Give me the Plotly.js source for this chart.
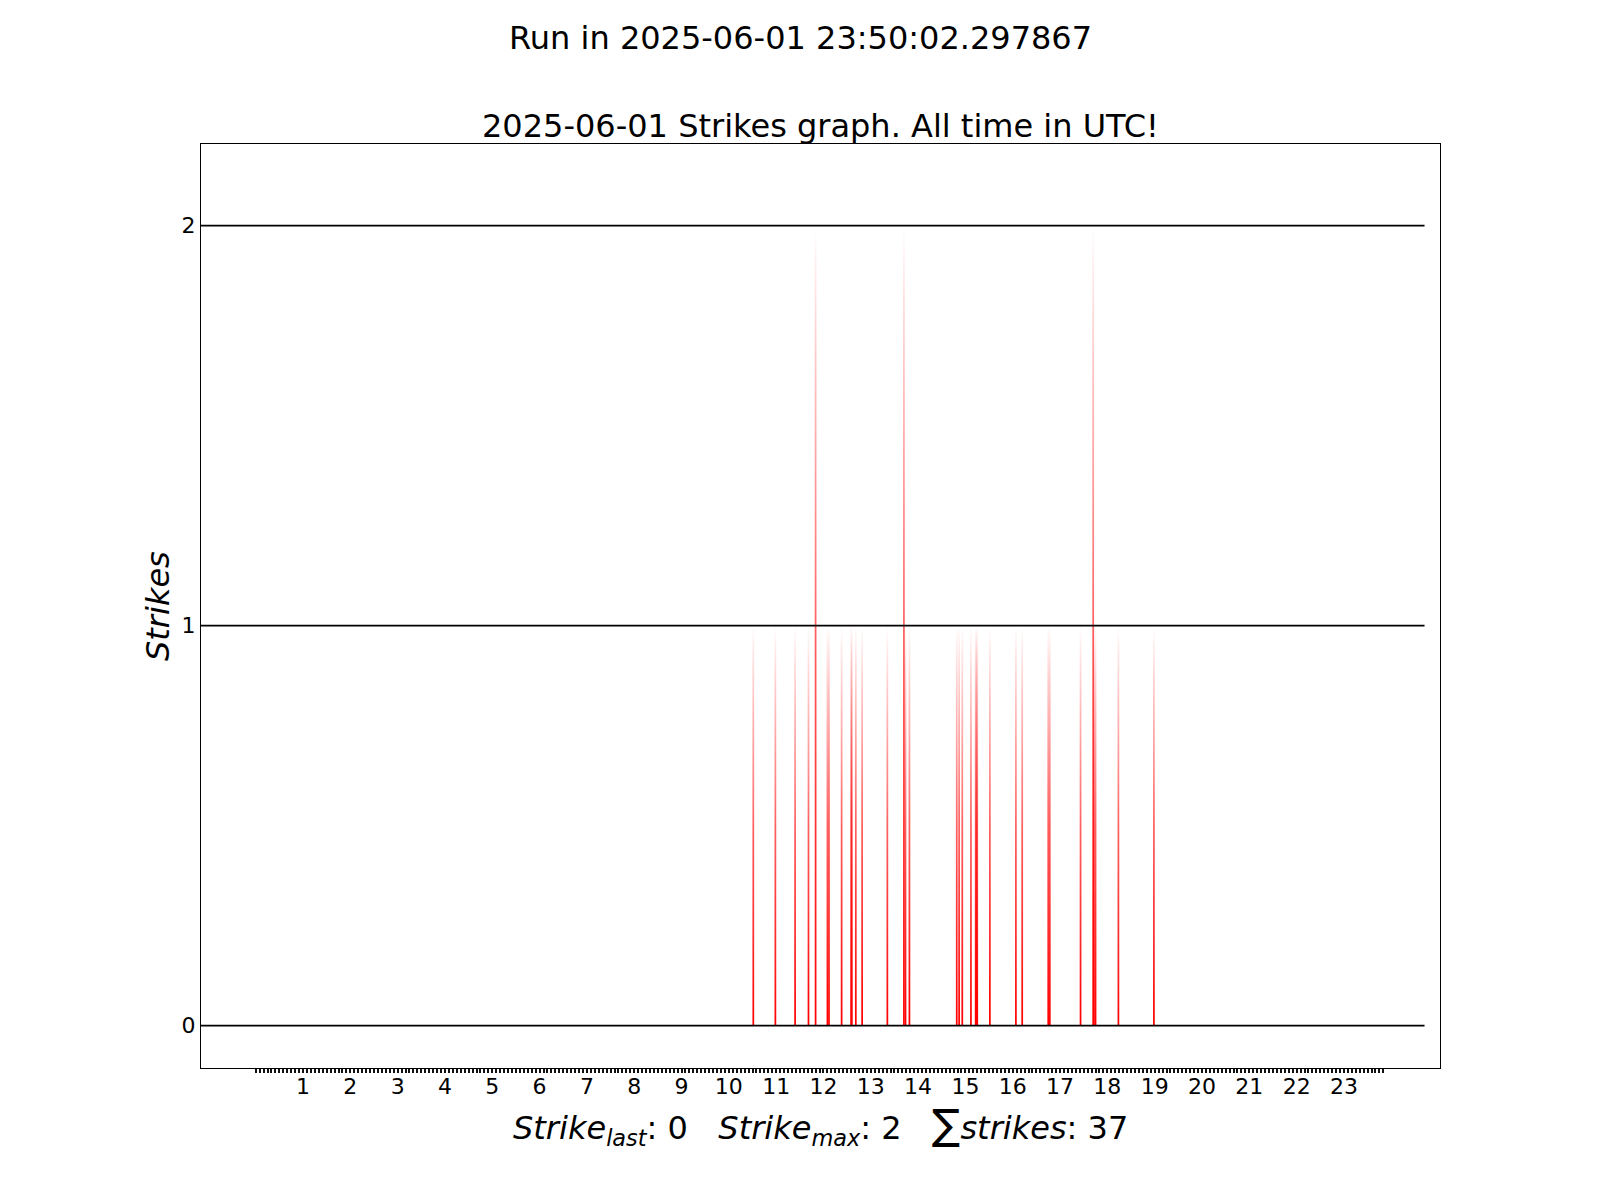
<!DOCTYPE html>
<html>
<head>
<meta charset="utf-8">
<script src="https://cdn.plot.ly/plotly-3.0.1.min.js"></script>
<style>
  html, body { margin: 0; padding: 0; background: #ffffff; }
  #chart { width: 1600px; height: 1200px; }
</style>
</head>
<body>
<div id="chart"></div>
<script>
// ---- data ----
const runStamp = "Run in 2025-06-01 23:50:02.297867";
const chartTitle = "2025-06-01 Strikes graph. All time in UTC!";
const yLabel = "Strikes";
// minute of the day (UTC) at which strikes were recorded
const strikeMinutes = [631, 659, 684, 701, 710, 725, 727, 743, 755, 756,
                       761, 769, 801, 822, 824, 829, 889, 892, 896, 907,
                       913, 914, 915, 931, 964, 972, 1005, 1007, 1046, 1062,
                       1063, 1065, 1094, 1139];
// strikes in that minute
const strikeCounts  = [1, 1, 1, 1, 2, 1, 1, 1, 1, 1,
                       1, 1, 1, 2, 1, 1, 1, 1, 1, 1,
                       1, 1, 1, 1, 1, 1, 1, 1, 1, 2,
                       1, 1, 1, 1];
const lastStrike = 0;
const hourLabels = ["1","2","3","4","5","6","7","8","9","10","11","12",
                    "13","14","15","16","17","18","19","20","21","22","23"];
const yTickVals = [0, 1, 2];
const yTickText = ["0", "1", "2"];
const lastMinute = 1430;   // 23:50, time of the run

// ---- derived ----
const totalStrikes = strikeCounts.reduce((a, b) => a + b, 0);
const maxStrike = Math.max(...strikeCounts);

const FONT = "DejaVu Sans, Liberation Sans, sans-serif";
const halfW = 1.1 / 60;   // half bar width in hours

const traces = strikeMinutes.map((m, i) => {
  const xc = m / 60, h = strikeCounts[i];
  return {
    type: "scatter", mode: "lines",
    x: [xc - halfW, xc - halfW, xc + halfW, xc + halfW, xc - halfW],
    y: [0, h, h, 0, 0],
    fill: "toself",
    line: { width: 0, color: "rgba(255,0,0,0)" },
    fillgradient: {
      type: "vertical", start: 0, stop: h,
      colorscale: [[0, "rgba(255,0,0,1)"], [0.5, "rgba(255,0,0,0.62)"], [0.85, "rgba(255,0,0,0.2)"], [1, "rgba(255,0,0,0)"]]
    },
    hoverinfo: "skip", showlegend: false
  };
});

// x ticks: every 5 minutes, labelled at full hours
const tickVals = [], tickText = [];
for (let m = 0; m <= lastMinute; m += 5) {
  tickVals.push(m / 60);
  tickText.push(m % 60 === 0 && m > 0 ? hourLabels[m / 60 - 1] : "");
}

const shapes = yTickVals.map(v => ({
  type: "line", xref: "paper", yref: "y", x0: 0, x1: 0.9875, y0: v, y1: v,
  line: { color: "#000000", width: 1.6 }, layer: "above"
}));

const nb = "\u00a0";
const xTitle = `<i>Strike</i><sub><i>last</i></sub>: ${lastStrike}${nb}${nb}${nb}` +
               `<i>Strike</i><sub><i>max</i></sub>: ${maxStrike}${nb}${nb}${nb}` +
               `<span style="font-size:42px">∑</span><i>strikes</i>: ${totalStrikes}`;

const layout = {
  width: 1600, height: 1200,
  margin: { l: 201, r: 160, t: 144, b: 132, pad: 0 },
  paper_bgcolor: "#ffffff", plot_bgcolor: "#ffffff",
  font: { family: FONT, color: "#000000", size: 22 },
  showlegend: false,
  xaxis: {
    range: [-1.156, 25.03], showgrid: false, zeroline: false,
    showline: true, mirror: true, linecolor: "#000000", linewidth: 1.1,
    tickmode: "array", tickvals: tickVals, ticktext: tickText,
    ticks: "outside", ticklen: 4, tickwidth: 2, tickcolor: "#111111",
    ticklabelstandoff: -6,
    tickfont: { family: FONT, size: 22, color: "#000000" },
    fixedrange: true
  },
  yaxis: {
    range: [-0.106, 2.204], showgrid: false, zeroline: false,
    showline: true, mirror: true, linecolor: "#000000", linewidth: 1.1,
    tickmode: "array", tickvals: yTickVals, ticktext: yTickText,
    ticks: "", tickfont: { family: FONT, size: 22, color: "#000000" },
    fixedrange: true
  },
  shapes: shapes,
  annotations: [
    { text: runStamp, xref: "paper", yref: "paper", x: (800 - 201) / 1239, y: (1068 - 38) / 924,
      xanchor: "center", yanchor: "middle", showarrow: false,
      font: { family: FONT, size: 32, color: "#000000" } },
    { text: chartTitle, xref: "paper", yref: "paper", x: 0.5, y: (1068 - 126) / 924,
      xanchor: "center", yanchor: "middle", showarrow: false,
      font: { family: FONT, size: 32, color: "#000000" } },
    { text: `<i>${yLabel}</i>`, xref: "paper", yref: "paper", x: (158 - 201) / 1239, y: 0.5,
      xanchor: "center", yanchor: "middle", textangle: -90, showarrow: false,
      font: { family: FONT, size: 32, color: "#000000" } },
    { text: xTitle, xref: "paper", yref: "paper", x: 0.5, y: (1068 - 1125) / 924,
      xanchor: "center", yanchor: "middle", showarrow: false,
      font: { family: FONT, size: 32, color: "#000000" } }
  ]
};

Plotly.newPlot("chart", traces, layout, { staticPlot: true, displayModeBar: false });
</script>
</body>
</html>
